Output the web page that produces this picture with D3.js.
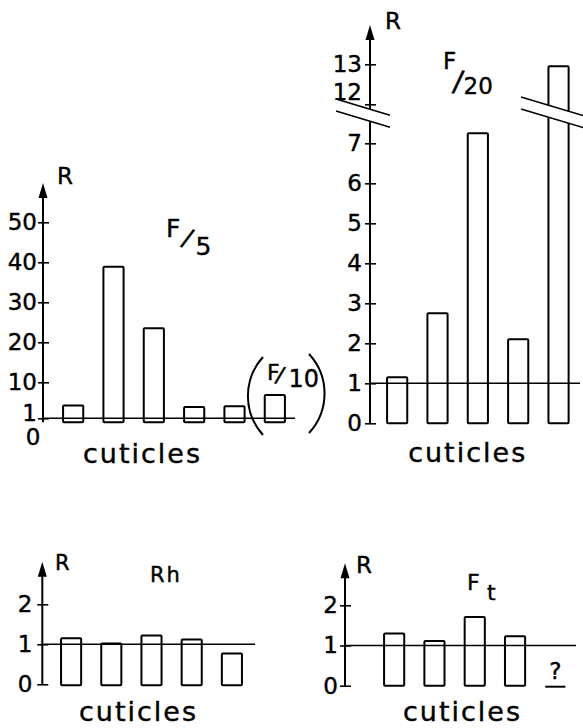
<!DOCTYPE html>
<html>
<head>
<meta charset="utf-8">
<script src="https://cdn.jsdelivr.net/npm/d3@7"></script>
<style>
  body { margin: 0; background: #fff; }
  svg text { font-family: "DejaVu Sans", sans-serif; fill: #000; stroke: #000; stroke-width: 0.4px; }
</style>
</head>
<body>
<div id="chart"></div>
<script>
// cuticle samples (not named in the figure)
var cuticles = ["c1", "c2", "c3", "c4", "c5"];
var cuticlesF5 = ["c1", "c2", "c3", "c4", "c5", "c6"]; // c6 = the (F/10) bar

// R values
var valuesF5 = [4.2, 38.9, 23.5, 3.8, 4.0];
var valuesF10 = [6.8];
var valuesF20 = [1.15, 2.75, 7.25, 2.1, 12.95];
var valuesRh = [1.15, 1.02, 1.22, 1.12, 0.77];
var valuesFt = [1.3, 1.11, 1.71, 1.23]; // 5th one is "?"

// tick labels
var ticksF5 = [1, 10, 20, 30, 40, 50];
var ticksF20Low = [0, 1, 2, 3, 4, 5, 6, 7];
var ticksF20High = [12, 13];
var ticksSmall = [0, 1, 2];

var svg = d3.select("#chart")
    .append("svg")
    .attr("width", 583)
    .attr("height", 728);

// ticks crossing the axis line, integer labels
function tickAxis(g, x, y, ticks, gap, fontSize) {
    var ax = g.append("g")
        .attr("transform", "translate(" + x + ",0)")
        .call(d3.axisLeft(y).tickValues(ticks).tickFormat(d3.format("d")).tickSize(5).tickPadding(gap - 5));
    ax.select(".domain").remove();
    ax.attr("font-family", null).attr("font-size", null);
    ax.selectAll(".tick line").attr("x1", 6).attr("stroke-width", 1.6);
    ax.selectAll(".tick text").attr("font-size", fontSize + "px");
    return ax;
}

// vertical axis with arrow head
function drawAxis(g, x, y, ticks, bottom, tip, gap, fontSize) {
    g.append("line")
        .attr("x1", x).attr("x2", x)
        .attr("y1", bottom).attr("y2", tip + 6)
        .attr("stroke", "#000").attr("stroke-width", 2);
    g.append("path")
        .attr("d", "M" + x + "," + tip + "L" + (x - 4.5) + "," + (tip + 15) + "L" + (x + 4.5) + "," + (tip + 15) + "Z")
        .attr("fill", "#000");
    return tickAxis(g, x, y, ticks, gap, fontSize);
}

function drawBars(g, x, y, values, y0) {
    g.append("g").selectAll("rect")
        .data(values)
        .enter().append("rect")
        .attr("x", function (d, i) { return x(x.domain()[i]); })
        .attr("width", x.bandwidth())
        .attr("y", function (d) { return y(d); })
        .attr("height", function (d) { return y0 - y(d); })
        .attr("fill", "none")
        .attr("stroke", "#000")
        .attr("stroke-width", 2)
        .attr("rx", 1);
}

function oneLine(g, x1, x2, yv) {
    g.append("line")
        .attr("x1", x1).attr("x2", x2)
        .attr("y1", yv).attr("y2", yv)
        .attr("stroke", "#000").attr("stroke-width", 1.6);
}

function label(g, txt, x, yb, size, anchor) {
    return g.append("text")
        .attr("x", x).attr("y", yb)
        .attr("font-size", size + "px")
        .style("text-anchor", anchor || "start")
        .text(txt);
}

function slash(g, cx, cy, size, angle) {
    g.append("text")
        .attr("transform", "translate(" + cx + "," + cy + ") rotate(" + angle + ")")
        .attr("font-size", size + "px")
        .attr("dy", "0.33em")
        .style("text-anchor", "middle")
        .text("/");
}

function cuticlesLabel(g, cx, yb) {
    label(g, "cuticles", cx + 1, yb, 27, "middle").attr("letter-spacing", 2);
}

// ---------- panel F/5 ----------
var p1 = svg.append("g");
var y1 = d3.scaleLinear().domain([0, 50]).range([422.3, 222.3]);
var x1 = d3.scaleBand().domain(cuticlesF5).range([53, 295]).paddingInner(0.5).paddingOuter(0.25);
oneLine(p1, 43, 295, y1(1));
drawBars(p1, x1, y1, valuesF5.concat(valuesF10), y1(0));
var a1 = drawAxis(p1, 43, y1, ticksF5, y1(0), 183, 6, 23);
a1.selectAll(".tick text").filter(function (d) { return d === 1; }).attr("dy", "0.1em");
label(p1, "0", 33, 445, 23, "middle");
label(p1, "R", 57, 184, 23);
label(p1, "F", 166, 237, 25);
slash(p1, 187.5, 238.3, 25, 20);
label(p1, "5", 195.5, 255, 25);
// (F/10) bracket
label(p1, "F", 267, 380, 22);
slash(p1, 280, 375, 22, 14);
label(p1, "10", 288.5, 387, 24);
p1.append("path").attr("d", "M263,357 A58,58 0 0 0 263,435")
    .attr("fill", "none").attr("stroke", "#000").attr("stroke-width", 2);
p1.append("path").attr("d", "M309,354 A58,58 0 0 1 309,433")
    .attr("fill", "none").attr("stroke", "#000").attr("stroke-width", 2);
cuticlesLabel(p1, 141.5, 463);

// ---------- panel F/20 (broken axis) ----------
var p2 = svg.append("g");
var y2Low = d3.scaleLinear().domain([0, 7]).range([423.3, 143.3]);
var y2High = d3.scaleLinear().domain([12, 13]).range([104.3, 64.3]);
function y2(v) { return v > 9.5 ? y2High(v) : y2Low(v); }
var x2 = d3.scaleBand().domain(cuticles).range([377, 578.7]).paddingInner(0.5).paddingOuter(0.25);
oneLine(p2, 370, 580, y2Low(1));
drawBars(p2, x2, y2, valuesF20, y2Low(0));
drawAxis(p2, 370, y2Low, ticksF20Low, y2Low(0), 25, 8, 23);
var a2 = tickAxis(p2, 370, y2High, ticksF20High, 8, 23);
a2.selectAll(".tick text").filter(function (d) { return d === 12; }).attr("dy", "-0.2em");

// break marks: white band between two slanted lines
function breakMark(g, cx, cy, half) {
    var s = 0.3, h = 6;
    var pts = [[cx - half, cy - h - s * half], [cx + half, cy - h + s * half],
               [cx + half, cy + h + s * half], [cx - half, cy + h - s * half]];
    g.append("path").attr("d", "M" + pts.join("L") + "Z").attr("fill", "#fff");
    g.append("line").attr("x1", pts[0][0]).attr("y1", pts[0][1]).attr("x2", pts[1][0]).attr("y2", pts[1][1])
        .attr("stroke", "#000").attr("stroke-width", 1.6);
    g.append("line").attr("x1", pts[3][0]).attr("y1", pts[3][1]).attr("x2", pts[2][0]).attr("y2", pts[2][1])
        .attr("stroke", "#000").attr("stroke-width", 1.6);
}
breakMark(p2, 363, y2High(11.78), 27);
breakMark(p2, 552, y2High(11.8), 31);
label(p2, "R", 385, 28.5, 23);
label(p2, "F", 443, 68.5, 23);
slash(p2, 458.3, 81.7, 29, 8);
label(p2, "20", 463.5, 93.5, 23);
cuticlesLabel(p2, 466.7, 461.7);

// ---------- panel Rh ----------
var p3 = svg.append("g");
var y3 = d3.scaleLinear().domain([0, 2]).range([684.3, 604.3]);
var x3 = d3.scaleBand().domain(cuticles).range([51, 252]).paddingInner(0.5).paddingOuter(0.25);
oneLine(p3, 42.3, 255, y3(1));
drawBars(p3, x3, y3, valuesRh, y3(0) + 1);
drawAxis(p3, 42.3, y3, ticksSmall, y3(0), 561.7, 10, 23);
label(p3, "R", 55, 570, 21);
label(p3, "Rh", 150, 582, 21).attr("letter-spacing", 2);
cuticlesLabel(p3, 137.5, 721);

// ---------- panel Ft ----------
var p4 = svg.append("g");
var y4 = d3.scaleLinear().domain([0, 2]).range([685.7, 605.3]);
var x4 = d3.scaleBand().domain(cuticles).range([374, 575.5]).paddingInner(0.5).paddingOuter(0.25);
oneLine(p4, 345, 576, y4(1));
drawBars(p4, x4, y4, valuesFt, y4(0));
drawAxis(p4, 345, y4, ticksSmall, y4(0), 563.3, 7, 23);
// unknown 5th cuticle
var q = cuticles[valuesFt.length];
label(p4, "?", x4(q) + x4.bandwidth() / 2, 679, 23, "middle");
p4.append("line")
    .attr("x1", x4(q)).attr("x2", x4(q) + x4.bandwidth())
    .attr("y1", y4(0) + 1).attr("y2", y4(0) + 1)
    .attr("stroke", "#000").attr("stroke-width", 2);
label(p4, "R", 356, 573, 23);
label(p4, "F", 467, 590, 22);
label(p4, "t", 487, 600, 22);
cuticlesLabel(p4, 461.5, 721);
</script>
</body>
</html>
